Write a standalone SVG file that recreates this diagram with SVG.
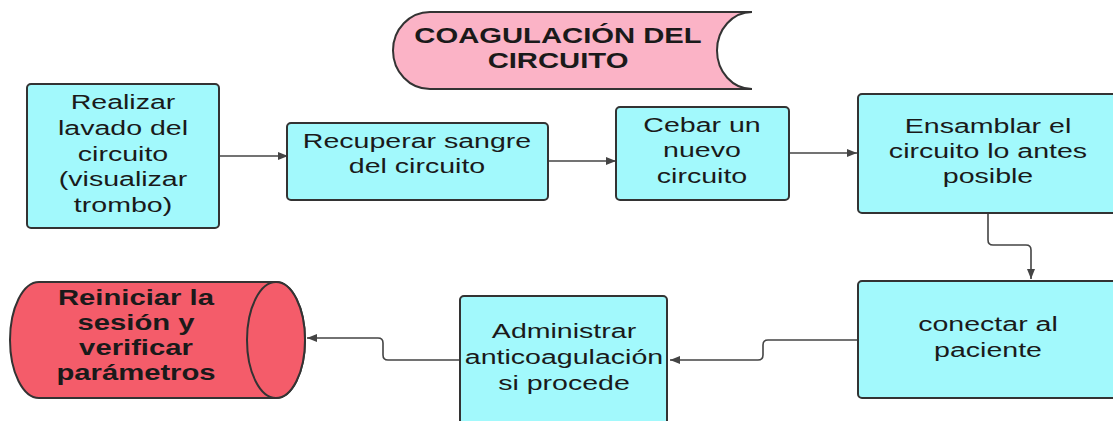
<svg xmlns="http://www.w3.org/2000/svg" width="1113" height="421" viewBox="0 0 1113 421">
<defs>
<style>
.box{fill:#a2f9fc;stroke:#333;stroke-width:2}
.t{font-family:"Liberation Sans",Arial,sans-serif;font-size:21px;fill:#1a1a1a;text-anchor:middle}
.b{font-family:"Liberation Sans",Arial,sans-serif;font-size:21.5px;font-weight:bold;fill:#1a1a1a;text-anchor:middle}
.c{fill:none;stroke:#444;stroke-width:1.6}
</style>
<marker id="ah" viewBox="0 0 10 8" refX="10" refY="4" markerWidth="10" markerHeight="8" markerUnits="userSpaceOnUse" orient="auto">
<path d="M0,0 L10,4 L0,8 Z" fill="#444"/>
</marker>
</defs>
<rect width="1113" height="421" fill="#fff"/>
<g id="connectors">
<path class="c" d="M219,156 L288,156" marker-end="url(#ah)"/>
<path class="c" d="M548,161 L616,161" marker-end="url(#ah)"/>
<path class="c" d="M789,153 L857,153" marker-end="url(#ah)"/>
<path class="c" d="M988,213 L988,240 Q988,245 993,245 L1026,245 Q1031,245 1031,250 L1031,279" marker-end="url(#ah)"/>
<path class="c" d="M858,340 L768,340 Q763,340 763,345 L763,355 Q763,360 758,360 L670,360" marker-end="url(#ah)"/>
<path class="c" d="M460,360 L388,360 Q383,360 383,355 L383,343 Q383,338 378,338 L307,338" marker-end="url(#ah)"/>
</g>
<g id="title">
<path d="M430,12 L752,12 A35 38.5 0 0 0 752,89 L430,89 A37 38.5 0 0 1 430,12 Z" fill="#fbb3c6" stroke="#333" stroke-width="2"/>
<g transform="translate(558,0) scale(1.36,1)">
<text class="b" x="0" y="43">COAGULACIÓN DEL</text>
<text class="b" x="0" y="68">CIRCUITO</text>
</g>
</g>
<g id="n1">
<rect class="box" x="27" y="84" width="192" height="144" rx="4"/>
<g transform="translate(123,0) scale(1.36,1)">
<text class="t" x="0" y="109">Realizar</text>
<text class="t" x="0" y="135">lavado del</text>
<text class="t" x="0" y="161">circuito</text>
<text class="t" x="0" y="186">(visualizar</text>
<text class="t" x="0" y="212">trombo)</text>
</g>
</g>
<g id="n2">
<rect class="box" x="287" y="123" width="261" height="77" rx="4"/>
<g transform="translate(417,0) scale(1.36,1)">
<text class="t" x="0" y="148">Recuperar sangre</text>
<text class="t" x="0" y="173">del circuito</text>
</g>
</g>
<g id="n3">
<rect class="box" x="616" y="107" width="173" height="93" rx="4"/>
<g transform="translate(702,0) scale(1.36,1)">
<text class="t" x="0" y="132">Cebar un</text>
<text class="t" x="0" y="157">nuevo</text>
<text class="t" x="0" y="183">circuito</text>
</g>
</g>
<g id="n4">
<rect class="box" x="858" y="94" width="262" height="119" rx="4"/>
<g transform="translate(988,0) scale(1.36,1)">
<text class="t" x="0" y="133">Ensamblar el</text>
<text class="t" x="0" y="158">circuito lo antes</text>
<text class="t" x="0" y="183">posible</text>
</g>
</g>
<g id="n5">
<rect class="box" x="858" y="281" width="262" height="117" rx="4"/>
<g transform="translate(988,0) scale(1.36,1)">
<text class="t" x="0" y="331">conectar al</text>
<text class="t" x="0" y="357">paciente</text>
</g>
</g>
<g id="n6">
<rect class="box" x="460" y="296" width="207" height="140" rx="4"/>
<g transform="translate(564,0) scale(1.36,1)">
<text class="t" x="0" y="338">Administrar</text>
<text class="t" x="0" y="364">anticoagulación</text>
<text class="t" x="0" y="390">si procede</text>
</g>
</g>
<g id="n7">
<path d="M39,282 L276,282 A29 58 0 0 1 276,398 L39,398 A29 58 0 0 1 39,282 Z" fill="#f45c6a" stroke="#333" stroke-width="2"/>
<ellipse cx="276" cy="340" rx="29" ry="58" fill="#f45c6a" stroke="#333" stroke-width="2"/>
<g transform="translate(136,0) scale(1.36,1)">
<text class="b" x="0" y="305">Reiniciar la</text>
<text class="b" x="0" y="330">sesión y</text>
<text class="b" x="0" y="355">verificar</text>
<text class="b" x="0" y="380">parámetros</text>
</g>
</g>
</svg>
